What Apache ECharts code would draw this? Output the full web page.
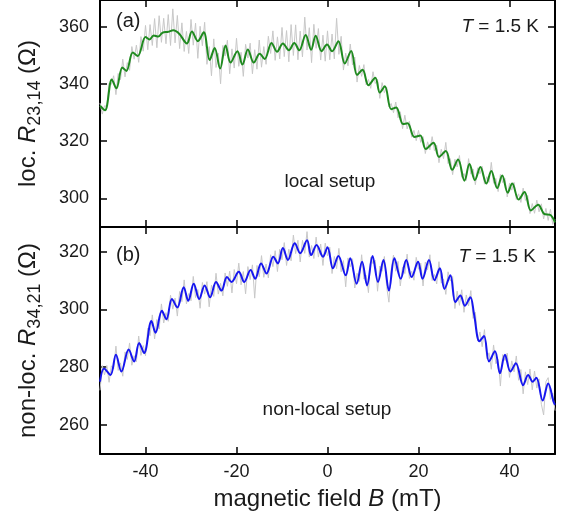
<!DOCTYPE html>
<html><head><meta charset="utf-8">
<script src="https://cdn.jsdelivr.net/npm/echarts@6/dist/echarts.min.js"></script>
<style>html,body{margin:0;padding:0;background:#fff}#c{width:568px;height:515px}</style>
</head><body><div id="c"></div>
<script>
// ---- data ----
// (a) local setup, smoothed curve: magnetic field B (mT) and resistance (Ohm)
const localB = [-50,-48.9,-47.4,-46.4,-45.1,-44.2,-42.8,-41.7,-40.0,-39.1,
  -38.2,-37.2,-36.3,-35.0,-33.9,-32.6,-30.9,-29.8,-28.5,-27.2,
  -25.9,-24.8,-23.6,-22.4,-21.3,-19.8,-18.7,-17.5,-16.2,-14.9,
  -13.8,-12.3,-11.1,-9.8,-8.5,-7.3,-6.2,-4.8,-3.6,-2.6,
  -1.3,-0.1,1.0,2.4,3.8,5.2,6.5,7.7,9.0,10.5,
  11.5,12.6,14.0,15.1,16.6,17.6,19.1,20.4,21.6,23.3,
  24.5,26.0,27.4,28.7,30.1,31.2,32.4,33.6,34.9,36.0,
  37.3,38.4,39.6,40.6,42.0,43.3,44.7,46.3,47.6,49.0,50.0];
const localR = [332.4,330.8,341.6,338.5,345.8,344.6,351.0,349.8,356.5,355.6,
  357.0,356.6,357.9,358.3,358.8,357.6,354.2,358.4,355.0,358.1,
  348.4,352.6,345.4,353.5,347.5,351.5,346.8,352.1,347.5,350.6,
  348.8,354.4,351.3,354.2,351.8,354.4,351.8,357.2,352.0,356.9,
  351.5,353.8,351.5,355.0,347.2,351.6,343.2,345.0,339.6,342.2,
  337.0,339.2,331.2,331.8,326.0,326.3,321.5,322.0,317.3,319.5,
  314.5,316.6,310.0,313.6,306.2,312.0,306.4,311.0,305.2,309.6,
  303.6,308.0,302.0,305.2,299.6,302.2,295.8,297.8,294.6,294.2,291.6];
// (b) non-local setup, smoothed curve
const nonlocalB = [-50,-49.1,-47.7,-46.5,-45.3,-43.7,-42.5,-41.4,-40.3,-38.7,
  -37.8,-36.4,-35.4,-34.2,-33.0,-31.6,-30.6,-29.4,-28.2,-27.0,
  -25.8,-24.5,-23.3,-22.1,-21.1,-19.5,-18.3,-16.9,-15.9,-14.6,
  -13.4,-11.9,-10.9,-9.8,-8.7,-7.2,-6.0,-4.5,-3.6,-2.4,
  -1.0,0.0,1.2,2.4,4.0,5.0,6.4,7.6,8.7,9.9,
  11.1,12.3,13.5,14.7,16.1,17.3,18.5,19.9,20.9,22.3,
  23.5,24.7,25.7,27.0,28.1,29.2,30.2,31.4,32.2,33.4,
  34.4,35.5,36.8,37.9,39.0,40.2,41.4,43.0,44.1,45.1,
  45.9,47.3,48.5,49.7,50];
const nonlocalR = [275.0,279.6,277.3,284.3,278.5,286.1,282.0,288.4,284.9,296.0,
  291.9,299.5,296.6,303.6,300.7,307.7,303.0,308.9,303.6,308.3,
  304.2,309.5,306.5,311.2,309.5,313.0,309.5,313.6,310.6,315.9,
  312.4,318.2,315.9,321.2,317.1,322.9,319.4,323.9,318.8,322.3,
  318.2,321.5,314.2,318.5,311.8,317.7,308.9,316.5,308.3,318.5,
  309.5,317.1,306.5,317.7,310.6,317.1,311.2,316.5,310.6,317.1,
  310.1,314.2,307.1,311.8,302.5,304.8,301.3,304.2,298.4,289.0,
  290.8,282.0,285.5,277.9,284.3,278.5,281.4,273.8,277.3,275.0,
  276.4,268.5,274.4,268.0,267.0];
// raw (grey) traces, sampled every 0.5 mT from -50 mT
const rawStart = -50, rawStep = 0.5;
const localRaw = [333.4,329.5,332.4,332.2,340.3,339.9,342.9,336.3,343.7,341.5,
  348.7,342.5,347.5,344.8,353.1,348.7,353.6,347.6,356.6,351.5,
  360.5,352.0,360.8,353.5,362.9,352.7,363.9,354.6,363.0,354.1,
  364.3,353.5,366.3,354.4,364.0,352.4,361.4,351.4,358.4,350.7,
  362.6,353.6,361.3,349.0,360.2,353.4,361.6,346.9,353.1,342.9,
  355.8,345.8,350.8,340.1,353.5,349.8,355.3,343.6,352.3,345.6,
  356.0,346.2,351.1,342.7,353.9,349.1,354.3,343.6,352.0,345.2,
  355.4,345.9,353.1,346.9,356.7,350.7,358.6,348.3,356.5,348.8,
  359.8,349.6,358.7,347.8,360.8,350.0,360.7,348.5,358.5,349.5,
  363.4,351.9,359.7,347.5,360.9,352.5,359.4,348.4,357.1,348.0,
  358.6,348.5,357.5,348.8,363.0,350.4,356.7,344.9,350.8,346.4,
  354.0,346.7,349.4,340.7,346.5,342.7,346.8,339.7,341.6,338.5,
  344.3,340.2,341.6,335.0,340.5,337.0,338.9,332.0,333.2,330.0,
  333.7,328.2,330.3,324.4,329.1,324.3,327.0,321.4,323.8,320.2,
  323.8,319.6,321.6,315.7,319.8,317.0,321.6,316.7,318.6,312.5,
  317.2,313.9,319.6,312.2,313.9,308.3,313.7,311.0,315.0,307.4,
  308.7,306.3,313.9,308.5,310.3,304.8,310.7,308.6,311.2,305.0,
  307.6,305.6,312.6,305.3,307.0,302.4,308.4,305.5,307.0,300.5,
  305.3,302.9,305.6,299.6,301.6,298.6,303.6,299.3,301.0,294.7,
  298.2,294.8,299.4,295.3,298.1,292.8,296.5,292.3,296.2,290.9,
  292.6];
const nonlocalRaw = [272.0,280.6,277.4,280.6,274.8,280.5,279.4,287.3,278.9,281.5,
  276.9,285.3,282.7,288.4,280.7,284.0,281.9,290.8,284.1,287.5,
  284.0,293.5,290.9,298.1,289.8,296.5,293.2,301.9,295.3,298.9,
  295.9,304.9,300.1,303.9,297.7,306.2,302.7,310.2,301.9,305.5,
  303.0,311.4,304.1,306.9,300.4,309.3,305.3,309.6,300.9,308.4,
  304.5,312.5,305.3,309.0,304.7,312.6,308.0,313.2,305.7,313.8,
  308.9,316.0,308.5,313.1,305.4,314.8,310.3,315.4,303.9,315.2,
  311.3,318.6,311.1,315.7,310.9,318.9,314.8,320.3,313.1,320.8,
  317.2,323.1,315.2,320.8,316.8,325.7,319.3,323.9,316.4,323.9,
  319.4,326.9,318.1,322.1,317.6,325.0,318.1,322.6,315.2,322.9,
  318.5,321.5,312.4,318.3,314.1,321.1,313.0,316.9,307.8,317.8,
  314.7,317.5,307.4,312.5,309.7,318.9,310.5,311.8,305.8,318.1,
  315.8,317.0,306.3,315.0,313.2,318.3,307.9,302.5,313.7,318.8,
  313.2,316.6,308.1,314.7,312.4,319.1,310.7,313.2,310.1,318.0,
  313.9,316.0,308.1,316.4,313.7,318.9,310.0,312.1,308.8,316.5,
  309.1,310.5,305.2,313.0,309.8,311.4,300.3,306.3,301.4,306.8,
  299.0,305.0,301.2,306.5,296.9,299.0,289.1,292.2,287.1,293.0,
  283.0,285.0,279.3,287.7,281.2,282.7,273.5,284.4,282.3,284.9,
  276.5,282.2,278.4,283.9,275.5,279.2,270.8,278.4,274.0,279.4,
  272.2,278.7,272.8,276.0,267.2,263.5,275.0,276.4,268.9,271.1,
  265.0];
const bRange = [-50, 50];
const localRange = [290, 369.4];
const nonlocalRange = [250, 328.5];

// ---- chart ----
const FONT = '"Liberation Sans", Arial, sans-serif';
const TXT = '#1a1a1a';
const rawB = localRaw.map((_, i) => rawStart + rawStep * i);
const pairs = (xs, ys) => ys.map((y, i) => [xs[i], y]);

const lineStyleAxis = { color: '#000', width: 2 };
const tickStyle = { show: true, inside: true, length: 7, lineStyle: { color: '#000', width: 1.5 } };

function xAxis(grid, position, showLabels, extra) {
  return Object.assign({
    type: 'value', gridIndex: grid, position: position,
    min: bRange[0], max: bRange[1], splitNumber: 5,
    axisLine: { show: true, onZero: false, lineStyle: lineStyleAxis },
    axisTick: tickStyle, splitLine: { show: false },
    axisLabel: { show: showLabels, showMinLabel: false, showMaxLabel: false,
      fontSize: 18, fontFamily: FONT, color: TXT, margin: 9 }
  }, extra || {});
}
function yAxis(grid, position, range, showLabels, extra) {
  return Object.assign({
    type: 'value', gridIndex: grid, position: position,
    min: range[0], max: range[1], splitNumber: 4,
    axisLine: { show: true, onZero: false, lineStyle: lineStyleAxis },
    axisTick: tickStyle, splitLine: { show: false },
    axisLabel: { show: showLabels, showMinLabel: false, showMaxLabel: false,
      fontSize: 18, fontFamily: FONT, color: TXT, margin: 11 }
  }, extra || {});
}
const nameRich = {
  a: { fontSize: 24, fontFamily: FONT, color: TXT, lineHeight: 32, verticalAlign: 'middle' },
  i: { fontSize: 24, fontFamily: FONT, color: TXT, fontStyle: 'italic', lineHeight: 32, verticalAlign: 'middle' },
  s: { fontSize: 18, fontFamily: FONT, color: TXT, lineHeight: 18, verticalAlign: 'bottom' }
};
const yName = (prefix, sub) => ({
  name: '{a|' + prefix + '}{i|R}{s|' + sub + '}{a| (Ω)}',
  nameLocation: 'middle', nameRotate: 90, nameGap: 56,
  nameTextStyle: { rich: nameRich }
});

const chart = echarts.init(document.getElementById('c'), null, { renderer: 'canvas' });
chart.setOption({
  animation: false,
  backgroundColor: '#fff',
  grid: [
    { left: 100, top: -1, width: 455, height: 228 },
    { left: 100, top: 227, width: 455, height: 227 }
  ],
  xAxis: [
    xAxis(0, 'bottom', false),
    xAxis(0, 'top', false),
    xAxis(1, 'bottom', true, {
      name: '{a|magnetic field }{i|B}{a| (mT)}', nameLocation: 'middle', nameGap: 29,
      nameTextStyle: { rich: nameRich }
    }),
    xAxis(1, 'top', false)
  ],
  yAxis: [
    yAxis(0, 'left', localRange, true, yName('loc. ', '23,14')),
    yAxis(0, 'right', localRange, false),
    yAxis(1, 'left', nonlocalRange, true, yName('non-loc. ', '34,21')),
    yAxis(1, 'right', nonlocalRange, false)
  ],
  series: [
    { type: 'line', xAxisIndex: 0, yAxisIndex: 0, data: pairs(rawB, localRaw), symbol: 'none',
      lineStyle: { color: '#c8c8c8', width: 1 }, z: 1 },
    { type: 'line', xAxisIndex: 0, yAxisIndex: 0, data: pairs(localB, localR), symbol: 'none', smooth: 0.35,
      lineStyle: { color: '#1f8a1f', width: 2 }, z: 2 },
    { type: 'line', xAxisIndex: 2, yAxisIndex: 2, data: pairs(rawB, nonlocalRaw), symbol: 'none',
      lineStyle: { color: '#c8c8c8', width: 1 }, z: 1 },
    { type: 'line', xAxisIndex: 2, yAxisIndex: 2, data: pairs(nonlocalB, nonlocalR), symbol: 'none', smooth: 0.35,
      lineStyle: { color: '#1616f0', width: 2 }, z: 2 }
  ],
  graphic: [
    { type: 'text', x: 116, y: 21, style: { text: '(a)', fontSize: 20, fontFamily: FONT, fill: TXT, align: 'left', verticalAlign: 'middle' } },
    { type: 'text', x: 116, y: 255, style: { text: '(b)', fontSize: 20, fontFamily: FONT, fill: TXT, align: 'left', verticalAlign: 'middle' } },
    { type: 'text', x: 539, y: 27, style: { text: '{i|T}{n| = 1.5 K}', align: 'right', verticalAlign: 'middle',
        rich: { i: { fontSize: 19, fontFamily: FONT, fontStyle: 'italic', fill: TXT }, n: { fontSize: 19, fontFamily: FONT, fill: TXT } } } },
    { type: 'text', x: 536, y: 257, style: { text: '{i|T}{n| = 1.5 K}', align: 'right', verticalAlign: 'middle',
        rich: { i: { fontSize: 19, fontFamily: FONT, fontStyle: 'italic', fill: TXT }, n: { fontSize: 19, fontFamily: FONT, fill: TXT } } } },
    { type: 'text', x: 330, y: 182, style: { text: 'local setup', fontSize: 19, fontFamily: FONT, fill: TXT, align: 'center', verticalAlign: 'middle' } },
    { type: 'text', x: 327, y: 410, style: { text: 'non-local setup', fontSize: 19, fontFamily: FONT, fill: TXT, align: 'center', verticalAlign: 'middle' } }
  ]
});
</script>
</body></html>
